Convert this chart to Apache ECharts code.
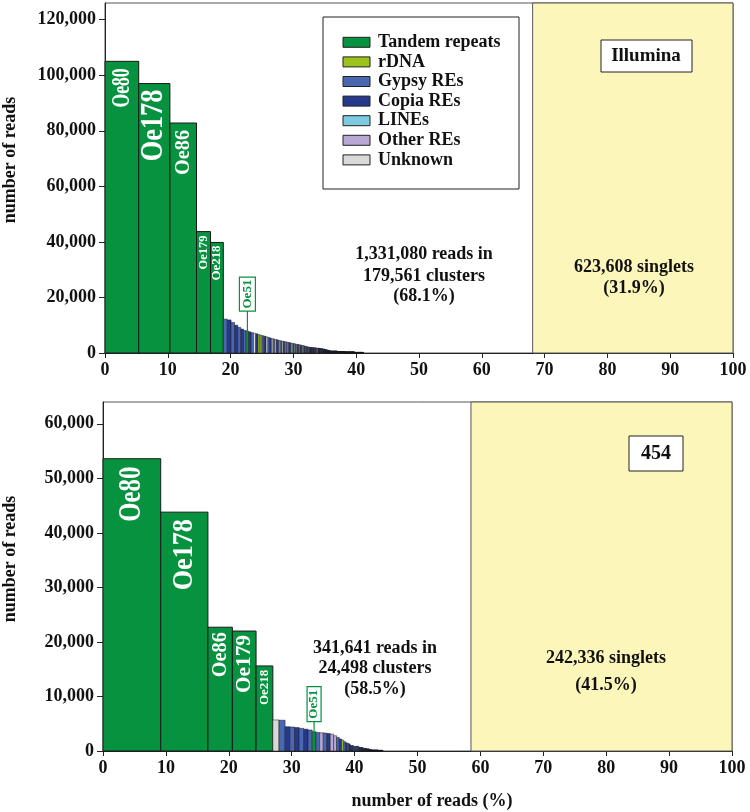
<!DOCTYPE html>
<html><head><meta charset="utf-8">
<script src="https://cdn.jsdelivr.net/npm/echarts@6/dist/echarts.min.js"></script>
<style>html,body{margin:0;padding:0;background:#fff}#c{width:750px;height:812px}</style>
</head><body><div id="c"></div>
<script>
// ================= DATA =================
const categories = ['Tandem repeats','rDNA','Gypsy REs','Copia REs','LINEs','Other REs','Unknown'];
const categoryCodes = ['T','R','G','C','L','O','U'];
const xTicks = [0,10,20,30,40,50,60,70,80,90,100];
const illuminaYTicks = [0,20000,40000,60000,80000,100000,120000];
const ion454YTicks = [0,10000,20000,30000,40000,50000,60000];

// Illumina summary
const illuminaClusteredReads = 1331080;
const illuminaClusterCount = 179561;
const illuminaSinglets = 623608;
// 454 summary
const ion454ClusteredReads = 341641;
const ion454ClusterCount = 24498;
const ion454Singlets = 242336;

// clusters in order: [reads per cluster, number of such clusters, category code, name]
const illuminaClusters = [
 [105000,1,'T','Oe80'],[97000,1,'T','Oe178'],[82800,1,'T','Oe86'],[43700,1,'T','Oe179'],[39800,1,'T','Oe218'],
 [12200,1,'G'],[11900,1,'C'],[11000,1,'G'],[10000,1,'C'],[9200,1,'G'],[8600,1,'C'],[8100,1,'G'],
 [7900,1,'T','Oe51'],
 [7600,1,'C'],[7300,1,'G'],[7100,1,'U'],[6900,1,'C'],
 [6600,1,'R'],[6400,1,'R'],[6200,1,'G'],[6000,1,'C'],[5800,1,'U'],[5600,1,'G'],[5350,1,'C'],[5200,1,'U'],
 [5050,1,'G'],[4900,1,'U'],[4750,1,'C'],[4600,1,'G'],[4450,1,'U'],
 [4350,1,'G'],[4250,1,'U'],[4150,1,'C'],[4050,1,'O'],[3950,1,'G'],[3850,1,'U'],[3750,1,'C'],
 [3650,1,'G'],[3550,1,'U'],[3450,1,'L'],[3400,1,'C'],[3300,1,'U'],[3200,1,'G'],[3100,1,'U'],[3050,1,'C'],[3000,1,'G'],[2950,1,'U'],
 [2850,1,'C'],[2800,1,'G'],[2700,1,'U'],[2650,1,'U'],[2550,1,'G'],[2500,1,'C'],[2400,1,'U'],[2350,1,'G'],[2250,1,'O'],[2200,1,'C'],[2150,1,'U'],[2100,1,'G'],
 [2000,4,'C'],[1900,6,'G'],[1800,4,'U'],[1700,3,'C'],
 [1600,5,'G'],[1450,5,'C'],[1200,6,'C'],[950,9,'C'],[750,30,'C'],[550,44,'C'],[420,70,'C'],[300,92,'C']
];
const ion454Clusters = [
 [53600,1,'T','Oe80'],[43800,1,'T','Oe178'],[22700,1,'T','Oe86'],[22000,1,'T','Oe179'],[15600,1,'T','Oe218'],
 [5700,1,'U'],[5650,1,'G'],[4450,1,'C'],[4400,1,'G'],[4300,1,'C'],[4150,1,'G'],[4000,1,'C'],[3850,1,'G'],
 [3540,1,'T','Oe51'],
 [3400,1,'G'],[3350,1,'O'],[3300,1,'G'],[3200,1,'C'],[3100,1,'O'],[2800,1,'O'],[2500,1,'G'],[2200,1,'C'],
 [2000,1,'R'],[1700,1,'G'],[1500,1,'C'],[1400,1,'G'],[1300,1,'C'],
 [1000,3,'C'],[850,6,'G'],[650,6,'C'],[500,6,'C'],[400,6,'C'],[300,8,'C'],[200,30,'C'],[150,30,'C']
];

// ================= STYLE =================
const FONT = '"Liberation Serif","Times New Roman",serif';
const colors = {T:'#079240', R:'#9cc21c', G:'#4a68b2', C:'#27398c', L:'#7ccbe2', O:'#b9a7d6', U:'#d9d9d9'};
const singletFill = '#fdf6bb';
// per-label styles: [fontSize, lengthSqueeze, gapFromBarTop]
const illuminaLabelStyle = {Oe80:[26,0.68,7],Oe178:[31,0.85,6],Oe86:[22,0.92,7],Oe179:[13,0.96,4],Oe218:[13,0.99,3]};
const ion454LabelStyle = {Oe80:[31,0.8,8],Oe178:[29,0.9,7],Oe86:[22,0.92,5],Oe179:[22,0.97,4],Oe218:[13,0.99,4]};
const illuminaCallout = {line:20,w:16,h:34,size:13};
const ion454Callout = {line:10,w:14,h:35,size:13};

function starts(clusters,total){
  const s=[];let acc=0;
  clusters.forEach(c=>{s.push(acc/total*100);acc+=c[0]*c[1];});
  return s;
}
function buildClusterSeries(clusters,total,gridIdx,labelStyle,callout){
  const st = starts(clusters,total);
  return {
    type:'custom', xAxisIndex:gridIdx, yAxisIndex:gridIdx, z:3, clip:false,
    data: clusters.map((c,i)=>[st[i],c[0],i]),
    encode:{x:0,y:1},
    renderItem:function(params,api){
      const i=api.value(2); const c=clusters[i];
      const reads=c[0], n=c[1], code=c[2], name=c[3];
      const w=reads/total*100;
      const isMain = name && labelStyle[name];
      const children=[];
      for(let k=0;k<n;k++){
        const x0=st[i]+k*w;
        const p0=api.coord([x0,reads]); const p1=api.coord([x0+w,0]);
        children.push({type:'rect',shape:{x:p0[0],y:p0[1],width:p1[0]-p0[0],height:p1[1]-p0[1]},
          style:{fill:colors[code],stroke:'#1a1a1a',lineWidth:isMain?1:0.5}});
      }
      const top=api.coord([st[i],reads])[1];
      const cx=api.coord([st[i]+w/2,0])[0];
      if(isMain){
        const ls=labelStyle[name];
        children.push({type:'text',x:cx,y:top+ls[2],rotation:Math.PI/2,scaleX:ls[1],
          style:{text:name,fill:'#fff',font:'bold '+ls[0]+'px '+FONT,align:'right',verticalAlign:'middle'}});
      } else if(name){
        const by=top-callout.line;
        children.push({type:'line',shape:{x1:cx,y1:top,x2:cx,y2:by},style:{stroke:'#079240',lineWidth:1.2}});
        children.push({type:'rect',shape:{x:cx-callout.w/2,y:by-callout.h,width:callout.w,height:callout.h},
          style:{fill:'#fff',stroke:'#079240',lineWidth:1.2}});
        children.push({type:'text',x:cx,y:by-callout.h/2,rotation:Math.PI/2,
          style:{text:name,fill:'#079240',font:'bold '+callout.size+'px '+FONT,align:'center',verticalAlign:'middle'}});
      }
      return {type:'group',children};
    }
  };
}
function buildSingletSeries(startPct,gridIdx){
  return {
    type:'custom', xAxisIndex:gridIdx, yAxisIndex:gridIdx, z:1, clip:false,
    data:[[startPct,0]], encode:{x:0,y:1},
    renderItem:function(params,api){
      const cs=params.coordSys; const p=api.coord([api.value(0),0]);
      return {type:'rect',shape:{x:p[0],y:cs.y,width:cs.x+cs.width-p[0],height:cs.height},
        style:{fill:singletFill,stroke:'#555',lineWidth:1}};
    }
  };
}
const fmt = v => v.toLocaleString('en-US');
function xAxisOpt(gridIdx){
  return {type:'value',gridIndex:gridIdx,min:0,max:100,interval:10,
    axisLine:{lineStyle:{color:'#222',width:1}},
    axisTick:{length:5,lineStyle:{color:'#222'},customValues:xTicks},
    axisLabel:{customValues:xTicks,margin:8,color:'#111',fontFamily:FONT,fontWeight:'bold',fontSize:18},
    splitLine:{show:false}};
}
function yAxisOpt(gridIdx,max,ticks){
  return {type:'value',gridIndex:gridIdx,min:0,max:max,
    axisLine:{show:true,lineStyle:{color:'#222',width:1}},
    axisTick:{show:true,length:6,lineStyle:{color:'#222'},customValues:ticks},
    axisLabel:{customValues:ticks,formatter:fmt,margin:9,color:'#111',fontFamily:FONT,fontWeight:'bold',fontSize:18},
    splitLine:{show:false}};
}
const illTotal = illuminaClusteredReads+illuminaSinglets;
const ionTotal = ion454ClusteredReads+ion454Singlets;
const illPct = illuminaClusteredReads/illTotal*100;
const ionPct = ion454ClusteredReads/ionTotal*100;

function txt(x,y,t,size,extra){
  return Object.assign({type:'text',x:x,y:y,z:100,style:{text:t,fill:'#111',font:'bold '+(size||18)+'px '+FONT,align:'center',verticalAlign:'middle'}},extra||{});
}
const graphics=[];
// axis titles
graphics.push(txt(10,160,'number of reads',18,{rotation:Math.PI/2}));
graphics.push(txt(10,559,'number of reads',18,{rotation:Math.PI/2}));
graphics.push(txt(432,801,'number of reads (%)',18));
// top annotations
graphics.push(txt(424,254,fmt(illuminaClusteredReads)+' reads in'));
graphics.push(txt(424,276,fmt(illuminaClusterCount)+' clusters'));
graphics.push(txt(424,296,'('+illPct.toFixed(1)+'%)'));
graphics.push(txt(634,267,fmt(illuminaSinglets)+' singlets'));
graphics.push(txt(634,288,'('+(100-illPct).toFixed(1)+'%)'));
graphics.push({type:'rect',z:99,shape:{x:601,y:40,width:91,height:32},style:{fill:'#fff',stroke:'#222',lineWidth:1}});
graphics.push(txt(646,56,'Illumina',19));
// bottom annotations
graphics.push(txt(375,648,fmt(ion454ClusteredReads)+' reads in'));
graphics.push(txt(375,668,fmt(ion454ClusterCount)+' clusters'));
graphics.push(txt(375,689,'('+ionPct.toFixed(1)+'%)'));
graphics.push(txt(606,658,fmt(ion454Singlets)+' singlets'));
graphics.push(txt(606,685,'('+(100-ionPct).toFixed(1)+'%)'));
graphics.push({type:'rect',z:99,shape:{x:629,y:436,width:54,height:35},style:{fill:'#fff',stroke:'#222',lineWidth:1}});
graphics.push(txt(656,454,'454',20));
// legend
graphics.push({type:'rect',z:99,shape:{x:323,y:17,width:196,height:172},style:{fill:'#fff',stroke:'#222',lineWidth:1}});
categories.forEach((name,i)=>{
  const cy=42.3+i*19.6;
  graphics.push({type:'rect',z:100,shape:{x:343,y:cy-5,width:27,height:10},style:{fill:colors[categoryCodes[i]],stroke:'#222',lineWidth:1}});
  graphics.push(txt(378,cy,name,18,{style:{text:name,fill:'#111',font:'bold 18px '+FONT,align:'left',verticalAlign:'middle'}}));
});

const chart = echarts.init(document.getElementById('c'),null,{renderer:'canvas'});
chart.setOption({
  animation:false,
  backgroundColor:'#fff',
  grid:[
    {left:105,top:3,width:628,height:350,show:true,borderColor:'#555',borderWidth:1},
    {left:103,top:402,width:629,height:349,show:true,borderColor:'#555',borderWidth:1}
  ],
  xAxis:[xAxisOpt(0),xAxisOpt(1)],
  yAxis:[yAxisOpt(0,126000,illuminaYTicks),yAxisOpt(1,64000,ion454YTicks)],
  series:[
    buildSingletSeries(illPct,0),
    buildClusterSeries(illuminaClusters,illTotal,0,illuminaLabelStyle,illuminaCallout),
    buildSingletSeries(ionPct,1),
    buildClusterSeries(ion454Clusters,ionTotal,1,ion454LabelStyle,ion454Callout)
  ],
  graphic:graphics
});
</script></body></html>
